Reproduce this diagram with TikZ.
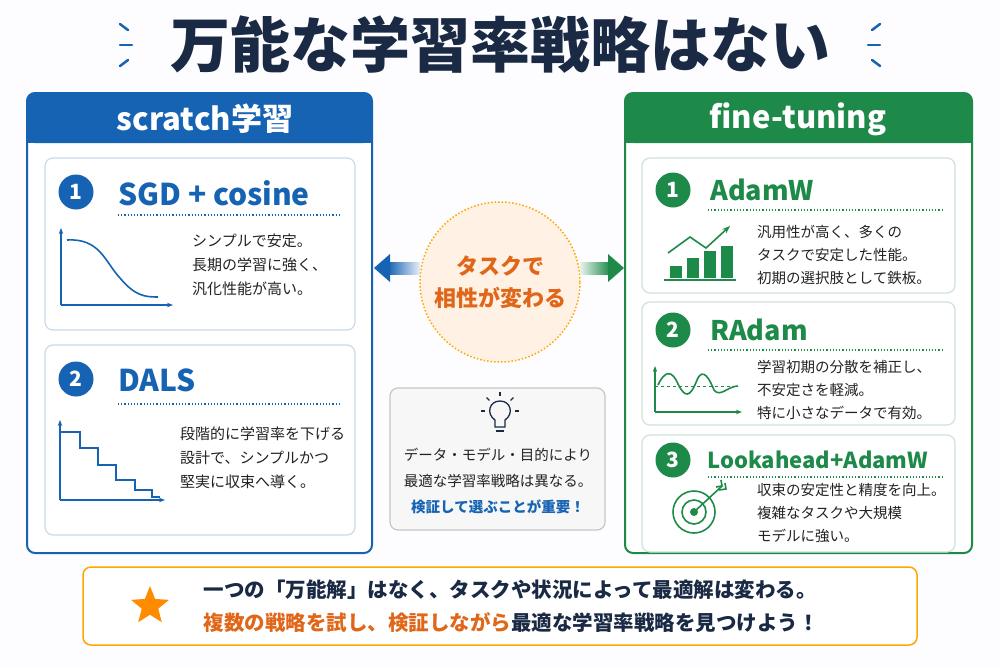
\documentclass[tikz,border=0pt]{standalone}
\usepackage{fontspec}
\setmainfont{Noto Sans CJK JP}
\usetikzlibrary{shapes.geometric,arrows.meta,calc}
\definecolor{navy}{HTML}{1A2A44}
\definecolor{bblue}{HTML}{1763B3}
\definecolor{ggreen}{HTML}{1E8A4A}
\definecolor{cardb}{HTML}{C9D9EA}
\definecolor{cardg}{HTML}{CFE3D5}
\definecolor{orng}{HTML}{E0661A}
\definecolor{txt}{HTML}{222222}
\tikzset{
 panel/.style={draw=#1,line width=2pt,rounded corners=8pt},
 card/.style={draw=#1,line width=1.2pt,rounded corners=8pt,fill=white},
 num/.style={circle,fill=#1,text=white,minimum size=35pt,inner sep=0,font=\bfseries\fontsize{21}{21}\selectfont},
 ttl/.style={anchor=west,text=#1,font=\bfseries\fontsize{30}{30}\selectfont,inner sep=0},
 body/.style={anchor=north west,align=left,text=txt,font=\fontsize{15}{24}\selectfont,inner sep=0},
 dots/.style={draw=#1,dotted,line width=1.2pt},
 icon/.style={draw=#1,line width=1.6pt},
}
\begin{document}
\begin{tikzpicture}[x=1pt,y=-1pt]
\fill[white!97!blue!30!white] (0,0) rectangle (1000,667);
\useasboundingbox (0,0) rectangle (1000,667);
% title
\node (title) at (500,45) [text=navy,font=\bfseries\fontsize{60}{60}\selectfont] {万能な学習率戦略はない};
\foreach \s in {1,-1}{
 \draw[bblue,line width=2.5pt,line cap=round] (500-\s*372,30) -- (500-\s*380,24);
 \draw[bblue,line width=2.5pt,line cap=round] (500-\s*368,45) -- (500-\s*380,45);
 \draw[bblue,line width=2.5pt,line cap=round] (500-\s*372,60) -- (500-\s*380,66);
}
% left panel
\fill[white] (27,93) rectangle (372,553);
\fill[bblue,rounded corners=8pt] (27,93) rectangle (372,143);
\fill[bblue] (27,130) rectangle (372,143);
\draw[panel=bblue] (27,93) rectangle (372,553);
\node (lhead) at (205,119) [text=white,font=\bfseries\fontsize{31}{31}\selectfont] {scratch学習};
\draw[card=cardb] (45,158) rectangle (355,330);
\node[num=bblue] (n1) at (76,192) {1};
\node[ttl=bblue] (t1) at (118,193) {SGD + cosine};
\draw[dots=bblue] (118,215) -- (340,215);
\draw[icon=bblue,-{Stealth[length=6pt]}] (61,305) -- (61,228);
\draw[icon=bblue,-{Stealth[length=6pt]}] (61,305) -- (173,305);
\draw[icon=bblue] (67,240) .. controls (100,238) and (105,262) .. (120,278) .. controls (135,296) and (145,297) .. (158,297);
\node[body] (b1) at (192,234) {シンプルで安定。\\長期の学習に強く、\\汎化性能が高い。};
\draw[card=cardb] (45,345) rectangle (355,535);
\node[num=bblue] (n2) at (76,379) {2};
\node[ttl=bblue] (t2) at (118,380) {DALS};
\draw[dots=bblue] (118,404) -- (340,404);
\draw[icon=bblue,-{Stealth[length=6pt]}] (60,500) -- (60,420);
\draw[icon=bblue,-{Stealth[length=6pt]}] (60,500) -- (165,500);
\draw[icon=bblue] (60,432) -- (80,432) -- (80,448) -- (98,448) -- (98,465) -- (116,465) -- (116,480) -- (135,480) -- (135,490) -- (152,490) -- (152,497) -- (160,497);
\node[body] (b2) at (180,427) {段階的に学習率を下げる\\設計で、シンプルかつ\\堅実に収束へ導く。};
% right panel
\fill[white] (625,93) rectangle (972,553);
\fill[ggreen,rounded corners=8pt] (625,93) rectangle (972,143);
\fill[ggreen] (625,130) rectangle (972,143);
\draw[panel=ggreen] (625,93) rectangle (972,553);
\node (rhead) at (798,119) [text=white,font=\bfseries\fontsize{31}{31}\selectfont] {fine-tuning};
\draw[card=cardg] (642,158) rectangle (955,293);
\node[num=ggreen] (m1) at (673,190) {1};
\node[ttl=ggreen,font=\bfseries\fontsize{27}{27}\selectfont] (u1) at (710,190) {AdamW};
\draw[dots=ggreen] (708,210) -- (942,210);
\foreach \x/\h in {670/12,687/20,704/27,721/32}{\fill[ggreen] (\x,278) rectangle (\x+12,278-\h);}
\draw[ggreen,line width=1.6pt] (664,280) -- (736,280);
\draw[icon=ggreen,-{Stealth[length=8pt]}] (668,253) -- (690,237) -- (706,248) -- (730,226);
\node[body,font=\fontsize{14.5}{23}\selectfont] (c1) at (757,225) {汎用性が高く、多くの\\タスクで安定した性能。\\初期の選択肢として鉄板。};
\draw[card=cardg] (642,302) rectangle (955,425);
\node[num=ggreen] (m2) at (673,330) {2};
\node[ttl=ggreen,font=\bfseries\fontsize{27}{27}\selectfont] (u2) at (710,330) {RAdam};
\draw[dots=ggreen] (708,350) -- (942,350);
\draw[icon=ggreen,-{Stealth[length=6pt]}] (655,412) -- (655,366);
\draw[icon=ggreen,-{Stealth[length=6pt]}] (655,412) -- (742,412);
\draw[ggreen,dashed,line width=1pt] (655,386) -- (735,386);
\draw[icon=ggreen] (658,385) .. controls (665,370) and (672,370) .. (678,384) .. controls (685,398) and (690,398) .. (697,380) .. controls (703,366) and (710,380) .. (714,390) .. controls (720,398) and (728,386) .. (738,386);
\node[body,font=\fontsize{14.5}{23}\selectfont] (c2) at (757,360) {学習初期の分散を補正し、\\不安定さを軽減。\\特に小さなデータで有効。};
\draw[card=cardg] (642,435) rectangle (955,552);
\node[num=ggreen] (m3) at (673,460) {3};
\node[ttl=ggreen,font=\bfseries\fontsize{22}{22}\selectfont] (u3) at (707,460) {Lookahead+AdamW};
\draw[dots=ggreen] (708,477) -- (942,477);
\draw[icon=ggreen] (694,512) circle (21);
\draw[icon=ggreen] (694,512) circle (12);
\fill[ggreen] (694,512) circle (4);
\draw[icon=ggreen] (694,512) -- (722,486);
\draw[icon=ggreen] (716,487) -- (722,486) -- (721,480);
\draw[icon=ggreen] (719,490) -- (726,489) -- (725,483);
\node[body,font=\fontsize{14.5}{23}\selectfont] (c3) at (757,483) {収束の安定性と精度を向上。\\複雑なタスクや大規模\\モデルに強い。};
% center
\node (mid) at (500,282) [circle,minimum size=160pt,fill=orange!10,draw=orange!70!yellow,dotted,line width=1.5pt,align=center,text=orng,font=\bfseries\fontsize{22}{32}\selectfont] {タスクで\\相性が変わる};
\coordinate (la) at (374,268);
\coordinate (ra) at (624,268);
\shade[left color=bblue,right color=bblue!10] (388,262) rectangle (420,274);
\fill[bblue] (374,268) -- (390,254) -- (390,282) -- cycle;
\shade[left color=ggreen!10,right color=ggreen] (580,262) rectangle (610,274);
\fill[ggreen] (624,268) -- (608,254) -- (608,282) -- cycle;
% hint
\draw[fill=gray!6,draw=gray!45,line width=1.2pt,rounded corners=8pt] (390,388) rectangle (605,530);
\draw[navy,line width=1.3pt] (495,427) -- (495,420) .. controls (486,414) and (489,401) .. (500,401) .. controls (511,401) and (514,414) .. (505,420) -- (505,427) -- cycle;
\draw[navy,line width=1.3pt] (496,431) -- (504,431);
\foreach \a in {90,45,135,0,180}{\draw[navy,line width=1.3pt] ($(500,411)+(\a:-15)$) -- ($(500,411)+(\a:-19)$);}
\node (hint) at (498,481) [align=center,text=txt,font=\fontsize{14.5}{26}\selectfont] {データ・モデル・目的により\\最適な学習率戦略は異なる。\\{\bfseries\color{bblue}検証して選ぶことが重要！}};
% bottom
\draw[fill=white,draw=orange!70!yellow,line width=1.5pt,rounded corners=8pt] (83,567) rectangle (917,645);
\node (star) at (150,606) [star,star points=5,star point ratio=2.3,fill=orange!90!yellow,minimum size=40pt,inner sep=0] {};
\node (bot) at (200,606) [anchor=west,align=left,text=navy,font=\bfseries\fontsize{20.5}{33}\selectfont] {一つの「万能解」はなく、タスクや状況によって最適解は変わる。\\{\color{orng}複数の戦略を試し、検証しながら}最適な学習率戦略を見つけよう！};
\end{tikzpicture}
\end{document}
